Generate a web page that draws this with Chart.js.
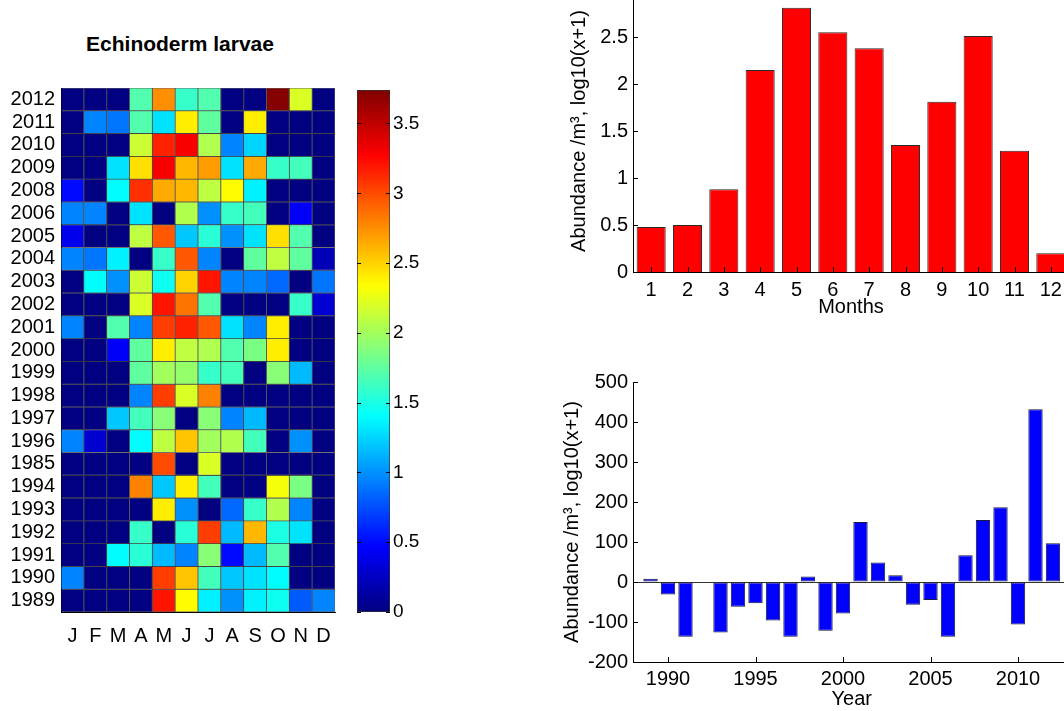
<!DOCTYPE html>
<html>
<head>
<meta charset="utf-8">
<script src="https://cdn.jsdelivr.net/npm/chart.js@4.4.0/dist/chart.umd.min.js"></script>
<style>
  html, body { margin: 0; padding: 0; background: #fff; overflow: hidden; width: 1064px; height: 711px; }
  canvas { position: absolute; }
  #title { position: absolute; left: 0; width: 360px; top: 32px; text-align: center;
           font: bold 21px 'Liberation Sans', Arial, sans-serif; color: #000; }
</style>
</head>
<body>
<div id="title">Echinoderm larvae</div>
<canvas id="heat" width="345" height="600" style="left:0;top:60px"></canvas>
<canvas id="cbar" width="100" height="600" style="left:340px;top:60px"></canvas>
<canvas id="monthly" width="520" height="349" style="left:560px;top:-30px"></canvas>
<canvas id="yearly" width="520" height="371" style="left:560px;top:340px"></canvas>
<script>
// Heatmap: rows top to bottom as labelled in the figure
const heatYears = ['2012', '2011', '2010', '2009', '2008', '2006', '2005', '2004', '2003', '2002', '2001', '2000',
  '1999', '1998', '1997', '1996', '1985', '1994', '1993', '1992', '1991', '1990', '1989'];
const monthLetters = ['J', 'F', 'M', 'A', 'M', 'J', 'J', 'A', 'S', 'O', 'N', 'D'];
const heatValues = [
  [0, 0, 0, 1.7, 2.75, 1.6, 1.7, 0, 0, 3.72, 2.2, 0],
  [0, 0.95, 0.9, 1.7, 1.3, 2.4, 1.75, 0, 2.4, 0, 0, 0],
  [0, 0, 0, 2.15, 3.15, 3.3, 2.05, 0.95, 1.25, 0, 0, 0],
  [0, 0, 1.3, 2.45, 3.3, 2.6, 2.7, 1.3, 2.65, 1.6, 1.65, 0],
  [0.5, 0, 1.4, 3.1, 2.65, 2.6, 2.1, 2.35, 1.35, 0, 0, 0],
  [0.95, 0.95, 0, 1.3, 0, 2.05, 1.0, 1.6, 1.65, 0, 0.45, 0],
  [0.4, 0, 0, 2.1, 2.95, 1.2, 1.55, 1.0, 1.3, 2.45, 1.7, 0],
  [0.95, 0.9, 1.35, 0, 1.6, 2.95, 0.95, 0, 1.75, 2.1, 1.75, 0.2],
  [0, 1.4, 1.0, 2.15, 1.45, 2.5, 3.2, 0.95, 0.95, 0.85, 0, 0.9],
  [0, 0, 0, 2.2, 3.2, 2.85, 1.7, 0, 0, 0, 1.6, 0.3],
  [0.95, 0, 1.7, 0.95, 3.05, 3.15, 2.95, 1.3, 0.95, 2.4, 0, 0],
  [0, 0, 0.45, 1.75, 2.4, 2.1, 2.05, 1.7, 1.85, 2.4, 0, 0],
  [0, 0, 0, 1.75, 2.0, 1.95, 1.6, 1.65, 0, 1.9, 1.15, 0],
  [0, 0, 0, 0.95, 3.05, 2.2, 2.8, 0, 0, 0, 0, 0],
  [0, 0, 1.2, 1.65, 1.9, 0, 1.9, 0.95, 1.15, 0, 0, 0],
  [0.95, 0.3, 0, 1.4, 2.1, 2.55, 2.0, 2.05, 1.65, 0, 1.0, 0],
  [0, 0, 0, 0, 3.0, 0, 2.2, 0, 0, 0, 0, 0],
  [0, 0, 0, 2.8, 1.2, 2.4, 1.65, 0, 0, 2.3, 1.85, 0],
  [0, 0, 0, 0, 2.4, 1.0, 0, 0.85, 1.6, 2.05, 0.95, 0],
  [0, 0, 0, 1.6, 0, 1.55, 3.05, 1.15, 2.6, 1.5, 1.3, 0],
  [0, 0, 1.4, 1.55, 1.15, 0.95, 1.9, 0.5, 1.15, 1.7, 0, 0],
  [0.95, 0, 0, 0, 3.05, 2.55, 1.65, 1.2, 1.3, 1.4, 0, 0],
  [0, 0, 0, 0, 3.2, 2.35, 1.35, 1.0, 1.35, 1.45, 0.8, 0.95]
];
const colorMax = 3.74;
const colorbarTicks = [0, 0.5, 1, 1.5, 2, 2.5, 3, 3.5];

// Monthly means
const monthNumbers = ['1', '2', '3', '4', '5', '6', '7', '8', '9', '10', '11', '12'];
const monthlyValues = [0.48, 0.5, 0.88, 2.15, 2.81, 2.55, 2.38, 1.35, 1.81, 2.51, 1.29, 0.2];
const monthlyTicks = [0, 0.5, 1, 1.5, 2, 2.5, 3];

// Yearly anomalies
const anomalyYears = [1989, 1990, 1991, 1992, 1993, 1994, 1995, 1996, 1997, 1998, 1999, 2000,
  2001, 2002, 2003, 2004, 2005, 2006, 2007, 2008, 2009, 2010, 2011, 2012];
const anomalyValues = [8, -31, -137, 0, -126, -62, -53, -96, -137, 14, -122, -79,
  150, 49, 17, -57, -45, -137, 67, 155, 187, -106, 432, 97];
const anomalyTicks = [-200, -100, 0, 100, 200, 300, 400, 500];
const yearTicks = [1990, 1995, 2000, 2005, 2010];

const yTitle = 'Abundance /m³, log10(x+1)';

Chart.defaults.font.family = "'Liberation Sans', Arial, sans-serif";
Chart.defaults.font.size = 20;
Chart.defaults.color = '#000';
Chart.defaults.animation = false;
Chart.defaults.plugins.legend.display = false;
Chart.defaults.plugins.tooltip.enabled = false;

// MATLAB-style short tick marks pointing into the plot
Chart.register({
  id: 'inTicks',
  afterDatasetsDraw(chart, args, opts) {
    if (!opts.len) return;
    const { ctx, chartArea: a } = chart;
    ctx.save();
    ctx.strokeStyle = '#000';
    ctx.lineWidth = 1;
    ctx.beginPath();
    (opts.axes || []).forEach(id => {
      const s = chart.scales[id];
      s.ticks.forEach(t => {
        const p = Math.round(s.getPixelForValue(t.value)) + 0.5;
        if (s.isHorizontal()) {
          ctx.moveTo(p, a.bottom); ctx.lineTo(p, a.bottom - opts.len);
        } else {
          ctx.moveTo(a.left, p); ctx.lineTo(a.left + opts.len, p);
          if (opts.both) { ctx.moveTo(a.right, p); ctx.lineTo(a.right - opts.len, p); }
        }
      });
    });
    ctx.stroke();
    ctx.restore();
  }
});

// MATLAB jet colormap
function jet(v) {
  const t = Math.max(0, Math.min(1, v / colorMax));
  const c = x => Math.round(255 * Math.max(0, Math.min(1, x)));
  return `rgb(${c(1.5 - Math.abs(4 * t - 3))},${c(1.5 - Math.abs(4 * t - 2))},${c(1.5 - Math.abs(4 * t - 1))})`;
}

const noGrid = { display: false, drawTicks: false };

// 1. Heatmap as floating bars, one dataset per year row
const nRows = heatYears.length;
const heatDatasets = heatYears.map((yr, i) => {
  const row = nRows - 1 - i;
  return {
    label: yr,
    data: heatValues[i].map(() => [row, row + 1]),
    backgroundColor: heatValues[i].map(jet),
    borderColor: 'rgba(0,0,0,0.6)',
    borderWidth: 0.8,
    borderSkipped: false,
    barPercentage: 1,
    categoryPercentage: 1,
    grouped: false
  };
});

new Chart(document.getElementById('heat'), {
  type: 'bar',
  data: { labels: monthLetters, datasets: heatDatasets },
  options: {
    responsive: false,
    layout: { padding: { left: 0, right: 10, top: 28, bottom: 0 } },
    scales: {
      x: {
        grid: noGrid,
        border: { color: '#000' },
        ticks: { autoSkip: false, maxRotation: 0, padding: 12 },
        afterFit: s => { s.height = 48; }
      },
      y: {
        min: 0,
        max: nRows,
        grid: noGrid,
        border: { color: '#000' },
        afterBuildTicks: axis => { axis.ticks = heatYears.map((y, i) => ({ value: nRows - 1 - i + 0.5 })); },
        ticks: { autoSkip: false, padding: 6, callback: v => heatYears[nRows - 1 - Math.floor(v)] },
        afterFit: s => { s.width = 61; }
      }
    }
  }
});

// 2. Colorbar
new Chart(document.getElementById('cbar'), {
  type: 'bar',
  data: {
    labels: [''],
    datasets: [{
      data: [[0, colorMax]],
      backgroundColor: ctx => {
        const area = ctx.chart.chartArea;
        if (!area) return null;
        const g = ctx.chart.ctx.createLinearGradient(0, area.bottom, 0, area.top);
        for (let k = 0; k <= 32; k++) g.addColorStop(k / 32, jet(k / 32 * colorMax));
        return g;
      },
      borderColor: '#333',
      borderWidth: 1,
      borderSkipped: false,
      barPercentage: 1,
      categoryPercentage: 1
    }]
  },
  options: {
    responsive: false,
    layout: { padding: { left: 17, right: 0, top: 30, bottom: 48 } },
    plugins: { inTicks: { len: 4, axes: ['y'], both: true } },
    scales: {
      x: { display: false },
      y: {
        position: 'right',
        min: 0,
        max: colorMax,
        grid: noGrid,
        border: { display: false },
        afterBuildTicks: axis => { axis.ticks = colorbarTicks.map(v => ({ value: v })); },
        ticks: { padding: 3, font: { size: 19 }, callback: v => String(v) },
        afterFit: s => { s.width = 50; }
      }
    }
  }
});

// 3. Monthly bars
new Chart(document.getElementById('monthly'), {
  type: 'bar',
  data: {
    labels: monthNumbers,
    datasets: [{
      data: monthlyValues,
      backgroundColor: '#ff0000',
      borderColor: '#2a2a2a',
      borderWidth: 1,
      barPercentage: 0.8,
      categoryPercentage: 1
    }]
  },
  options: {
    responsive: false,
    layout: { padding: { left: 7, right: 11, top: 20, bottom: 0 } },
    plugins: { inTicks: { len: 5, axes: ['x', 'y'] } },
    scales: {
      x: {
        grid: noGrid,
        border: { color: '#000' },
        ticks: { autoSkip: false, maxRotation: 0, padding: 6 },
        title: { display: true, text: 'Months', padding: 0 },
        afterFit: s => { s.height = 47; }
      },
      y: {
        min: 0,
        max: 3,
        grid: noGrid,
        border: { color: '#000' },
        afterBuildTicks: axis => { axis.ticks = monthlyTicks.map(v => ({ value: v })); },
        ticks: { padding: 5, callback: v => String(v) },
        title: { display: true, text: yTitle, padding: 0 },
        afterFit: s => { s.width = 66; }
      }
    }
  }
});

// 4. Yearly anomaly bars
new Chart(document.getElementById('yearly'), {
  type: 'bar',
  data: {
    datasets: [{
      data: anomalyYears.map((y, i) => ({ x: y, y: anomalyValues[i] })),
      backgroundColor: '#0000ff',
      borderColor: '#1a1a3a',
      borderWidth: 1,
      borderSkipped: false,
      barPercentage: 0.82,
      categoryPercentage: 1
    }]
  },
  options: {
    responsive: false,
    layout: { padding: { left: 0, right: 9.5, top: 42, bottom: 0 } },
    plugins: { inTicks: { len: 5, axes: ['x', 'y'] } },
    scales: {
      x: {
        type: 'linear',
        offset: false,
        min: 1988,
        max: 2013,
        grid: noGrid,
        border: { color: '#000' },
        afterBuildTicks: axis => { axis.ticks = yearTicks.map(v => ({ value: v })); },
        ticks: { padding: 5, maxRotation: 0, callback: v => String(v) },
        title: { display: true, text: 'Year', padding: 0 },
        afterFit: s => { s.height = 49; }
      },
      y: {
        min: -200,
        max: 500,
        grid: {
          drawTicks: false,
          color: ctx => (ctx.tick && ctx.tick.value === 0 ? '#333' : 'rgba(0,0,0,0)')
        },
        border: { color: '#000' },
        afterBuildTicks: axis => { axis.ticks = anomalyTicks.map(v => ({ value: v })); },
        ticks: { padding: 5, callback: v => String(v) },
        title: { display: true, text: yTitle, padding: 0 },
        afterFit: s => { s.width = 73; }
      }
    }
  }
});
</script>
</body>
</html>
